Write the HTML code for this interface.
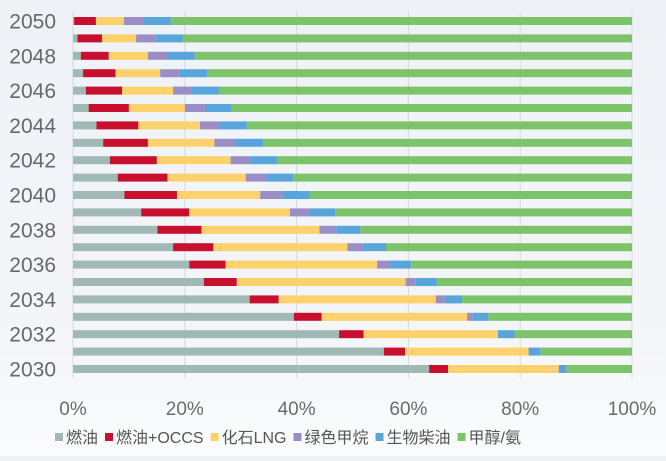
<!DOCTYPE html>
<html><head><meta charset="utf-8"><style>
html,body{margin:0;padding:0;}
body{width:666px;height:456px;overflow:hidden;background:linear-gradient(#eef2f7,#f3f5f8 70%,#fafbfc);font-family:"Liberation Sans","Noto Sans CJK SC",sans-serif;}
</style></head><body>
<svg id="chart" width="666" height="456" xmlns="http://www.w3.org/2000/svg"></svg>
<script>
const years=[2030,2031,2032,2033,2034,2035,2036,2037,2038,2039,2040,2041,2042,2043,2044,2045,2046,2047,2048,2049,2050];
const fuelOil=[63.7,55.6,47.6,39.5,31.6,23.4,20.8,17.9,15.1,12.2,9.2,8.0,6.6,5.4,4.2,2.8,2.3,1.8,1.4,0.8,0.2];
const fuelOilOccs=[3.4,3.8,4.4,5.0,5.2,5.9,6.5,7.2,7.9,8.6,9.4,8.9,8.4,8.0,7.5,7.2,6.5,5.8,5.0,4.4,3.9];
const fossilLng=[19.8,22.1,24.0,26.0,28.1,30.2,27.1,24.0,21.1,18.0,14.9,14.0,13.2,11.9,11.0,10.0,9.1,8.0,7.0,6.1,5.0];
const greenMethane=[0,0,0,1.0,1.6,1.8,2.2,2.7,3.0,3.4,4.0,3.7,3.5,3.7,3.5,3.6,3.4,3.5,3.6,3.5,3.5];
const bioDiesel=[1.4,2.1,3.0,2.8,3.1,3.8,3.9,4.2,4.3,4.7,4.8,4.8,4.8,5.0,4.9,4.8,4.8,4.9,4.8,4.8,4.9];
const methanolAmmonia=years.map((y,i)=>100-fuelOil[i]-fuelOilOccs[i]-fossilLng[i]-greenMethane[i]-bioDiesel[i]);
const seriesNames=["燃油","燃油+OCCS","化石LNG","绿色甲烷","生物柴油","甲醇/氨"];
const seriesKeys=["fuel-oil","fuel-oil-occs","fossil-lng","green-methane","bio-diesel","methanol-ammonia"];
const seriesData=[fuelOil,fuelOilOccs,fossilLng,greenMethane,bioDiesel,methanolAmmonia];
const colors=["#a0b9b5","#c8102e","#fdd16c","#9a8ec4","#58a5dc","#7cc36a"];
const xTicks=[0,20,40,60,80,100];
const yLabelYears=[2030,2032,2034,2036,2038,2040,2042,2044,2046,2048,2050];

const NS="http://www.w3.org/2000/svg";
const svg=document.getElementById('chart');
const x0=73,x1=632;
const X=v=>x0+(x1-x0)*v/100;
const yTop=21,yBot=369;
const Y=yr=>yBot-(yr-2030)*(yBot-yTop)/20;
function mk(tag,attrs){const e=document.createElementNS(NS,tag);for(const k in attrs)e.setAttribute(k,attrs[k]);svg.appendChild(e);return e;}

xTicks.forEach(t=>{
  const g=mk('line',{x1:X(t),x2:X(t),y1:12,y2:378,stroke:'#d6d9de','stroke-width':1});
  
  
  const tx=mk('text',{x:X(t),y:415,'text-anchor':'middle','font-size':19,fill:'#6a6c70'});
  tx.textContent=t+'%';
  
  
});

years.forEach((yr,i)=>{
  let acc=0;
  seriesData.forEach((arr,s)=>{
    const v=arr[i];
    if(v>0){
      const r=mk('rect',{x:X(acc),y:Y(yr)-4,width:X(acc+v)-X(acc),height:8,fill:colors[s]});
      
      
    }
    acc+=v;
  });
});

yLabelYears.forEach(yr=>{
  const t=mk('text',{x:56,y:Y(yr)+7.5,'text-anchor':'end','font-size':21,fill:'#66686c'});
  t.textContent=yr;
  
  
});

let lx=55;
seriesNames.forEach((n,s)=>{
  const r=mk('rect',{x:lx,y:433,width:8,height:8,fill:colors[s]});
  
  
  const t=mk('text',{x:lx+11,y:443,'font-size':16,fill:'#555'});
  t.textContent=n;
  
  
  lx+=11+t.getComputedTextLength()+7;
});
</script>
</body></html>
